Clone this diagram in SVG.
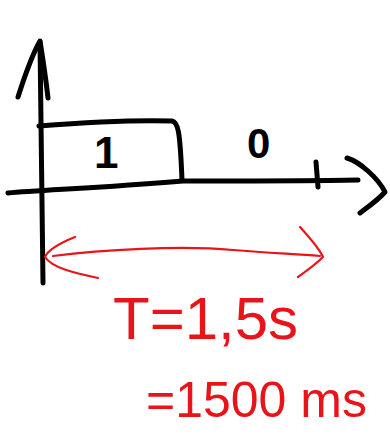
<svg xmlns="http://www.w3.org/2000/svg" width="390" height="436" viewBox="0 0 390 436">
<style>
.ink{fill:none;stroke:#000;stroke-width:5;stroke-linecap:round;stroke-linejoin:round}
.red{fill:none;stroke:#e8141a;stroke-width:2.2;stroke-linecap:round;stroke-linejoin:round}
.bt{font-family:"Liberation Sans",Arial,sans-serif;fill:#000;font-weight:bold}
.rt{font-family:"Liberation Sans",Arial,sans-serif;fill:#e8141a}
</style>
<rect width="390" height="436" fill="#fff"/>
<g id="axes">
<path class="ink" d="M40,42 C41,120 42,200 43,283"/>
<path class="ink" d="M18,97 C25,75 32,55 40,41 C43,60 46,80 48,98"/>
<path class="ink" d="M8,193 C40,190 100,188 183,181 C250,181 310,181 358,180"/>
<path class="ink" d="M347,158 C360,162 378,178 385,192 C378,200 368,207 360,213"/>
<path class="ink" d="M316,162 L318,187"/>
</g>
<g id="pulse">
<path class="ink" d="M39,126 C90,122 140,120 172,121 C178,122 180,130 182,180"/>
<text class="bt" x="94" y="168" font-size="44">1</text>
</g>
<g id="zero">
<text class="bt" x="247" y="158" font-size="42">0</text>
</g>
<g id="period">
<path class="red" d="M53,256 C100,250 180,245 233,250 C270,253 295,254 320,256"/>
<path class="red" d="M75,237 C60,243 48,250 45,257 C52,268 75,273 98,278"/>
<path class="red" d="M300,227 C310,238 320,250 323,257 C315,265 305,272 298,277"/>
<text class="rt" x="113" y="339" font-size="60">T=1,5s</text>
<text class="rt" x="146" y="417" font-size="50">=1500 ms</text>
</g>
</svg>
